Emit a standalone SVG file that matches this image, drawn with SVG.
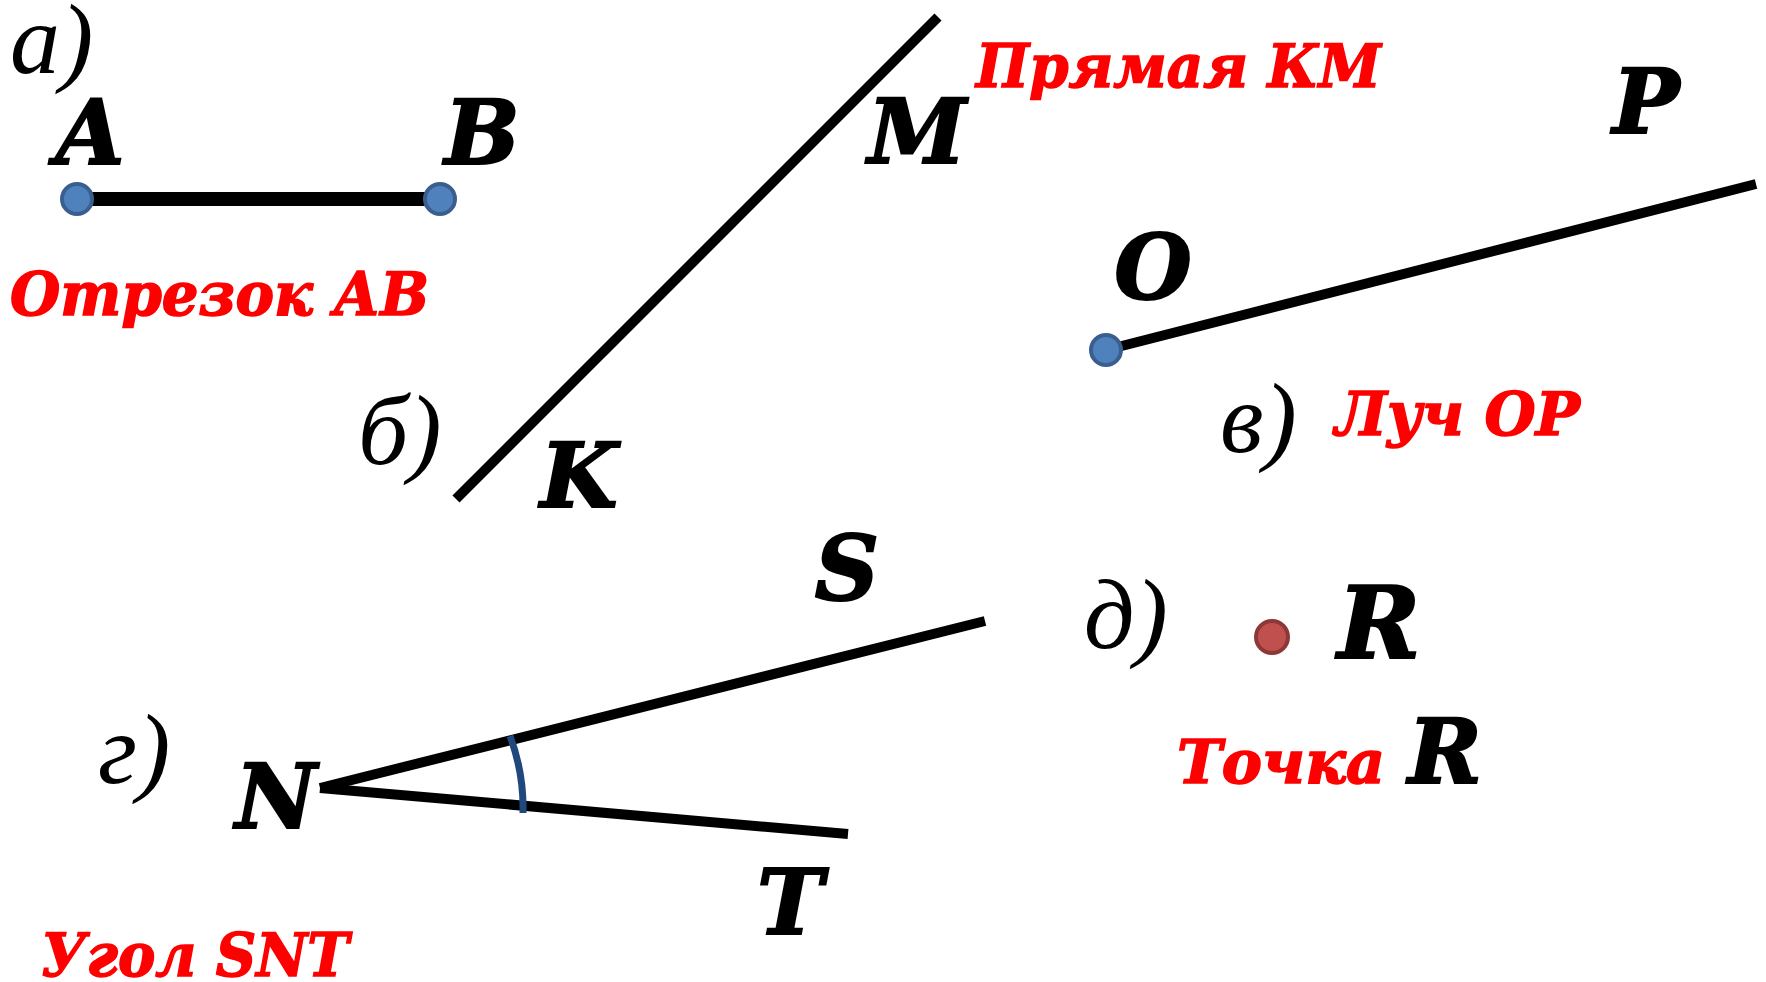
<svg xmlns="http://www.w3.org/2000/svg" width="1766" height="982" viewBox="0 0 1766 982">
<style>
.lbl{font-family:"DejaVu Serif","Liberation Serif",serif;font-weight:bold;font-style:italic;font-size:89px;fill:#000;stroke:#000;stroke-width:2;text-anchor:middle}
.red{font-family:"DejaVu Serif","Liberation Serif",serif;font-weight:bold;font-style:italic;font-size:59px;fill:#ff0000;stroke:#ff0000;stroke-width:1.5}
.it{font-family:"Liberation Serif","DejaVu Serif",serif;font-style:italic;font-size:100px;fill:#000}
.ln{stroke:#000;stroke-linecap:butt;fill:none}
.bdot{fill:#4f81bd;stroke:#3a5f8f;stroke-width:4}
.rdot{fill:#c0504d;stroke:#8c3836;stroke-width:4}
</style>
<rect width="1766" height="982" fill="#fff"/>
<g id="connectors">
<line class="ln" x1="77" y1="199" x2="440" y2="199" stroke-width="14"/>
<line class="ln" x1="456" y1="499" x2="938" y2="17" stroke-width="10"/>
<line class="ln" x1="1106" y1="350" x2="1756" y2="184" stroke-width="10"/>
<line class="ln" x1="320" y1="788" x2="985" y2="621" stroke-width="10"/>
<line class="ln" x1="320" y1="788" x2="848" y2="834" stroke-width="10"/>
<path d="M510 736 A205 205 0 0 1 523 813" fill="none" stroke="#1f497d" stroke-width="7"/>
</g>
<g id="fig-a">
<text class="it" x="10" y="73">а)</text>
<circle class="bdot" cx="77" cy="199" r="15"/>
<circle class="bdot" cx="440" cy="199" r="15"/>
<text class="lbl" x="90" y="164">A</text>
<text class="lbl" x="482" y="164">B</text>
<text class="red" x="10" y="315" textLength="419" lengthAdjust="spacingAndGlyphs">Отрезок АВ</text>
</g>
<g id="fig-b">
<text class="it" x="358" y="464">б)</text>
<text class="lbl" x="917" y="163">M</text>
<text class="lbl" x="579" y="507">K</text>
<text class="red" x="976" y="87" textLength="405" lengthAdjust="spacingAndGlyphs">Прямая КМ</text>
</g>
<g id="fig-v">
<circle class="bdot" cx="1106" cy="350" r="15"/>
<text class="lbl" x="1153" y="299">O</text>
<text class="lbl" x="1646" y="133">P</text>
<text class="it" x="1220" y="452">в)</text>
<text class="red" x="1335" y="435" textLength="245" lengthAdjust="spacingAndGlyphs">Луч ОР</text>
</g>
<g id="fig-g">
<text class="it" x="98" y="783">г)</text>
<text class="lbl" x="847" y="600">S</text>
<text class="lbl" x="276" y="828">N</text>
<text class="lbl" x="790" y="934">T</text>
<text class="red" x="41" y="976" textLength="308" lengthAdjust="spacingAndGlyphs">Угол SNT</text>
</g>
<g id="fig-d">
<text class="it" x="1084" y="648">д)</text>
<circle class="rdot" cx="1272" cy="637" r="16"/>
<text class="lbl" x="1379" y="658" style="font-size:100px">R</text>
<text class="red" x="1177" y="783" textLength="208" lengthAdjust="spacingAndGlyphs">Точка</text>
<text class="lbl" x="1445" y="783">R</text>
</g>
</svg>
